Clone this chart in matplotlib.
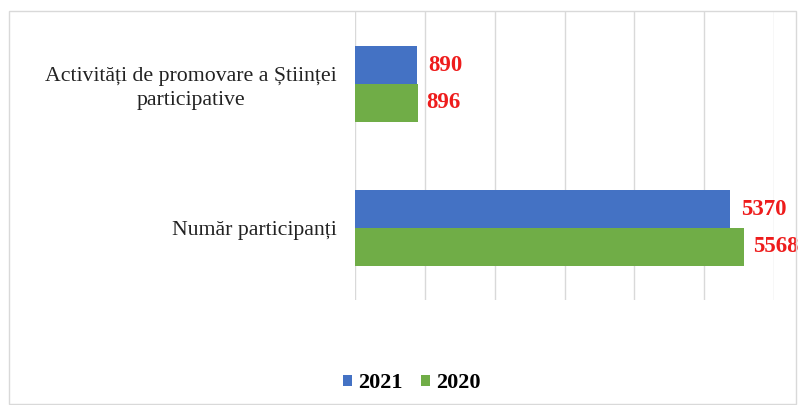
import matplotlib.pyplot as plt
import matplotlib.patches as patches
import numpy as np

categories = ["Activități de promovare a Științei\nparticipative", "Număr participanți"]
values_2021 = [890, 5370]
values_2020 = [896, 5568]

blue = "#4472c4"
green = "#70ad47"

plt.rcParams["font.family"] = ["Liberation Serif", "DejaVu Serif"]

fig = plt.figure(figsize=(7.98, 4.05), dpi=100)
ax = fig.add_axes([0.4449, 0.2593, 0.9699 - 0.4449, 0.7111])

y = np.arange(len(categories))
h = 0.262

bars1 = ax.barh(y - h / 2, values_2021, height=h, color=blue, label="2021")
bars2 = ax.barh(y + h / 2, values_2020, height=h, color=green, label="2020")

for bar, v in zip(bars1, values_2021):
    ax.text(bar.get_width() + 160, bar.get_y() + bar.get_height() / 2, str(v),
            color="#ee1c1c", fontsize=16.5, fontweight="bold", va="center", ha="left")
for bar, v in zip(bars2, values_2020):
    ax.text(bar.get_width() + 130, bar.get_y() + bar.get_height() / 2, str(v),
            color="#ee1c1c", fontsize=16.5, fontweight="bold", va="center", ha="left")

ax.set_xlim(0, 6000)
ax.set_ylim(1.5, -0.5)
ax.set_xticks(np.arange(0, 6001, 1000))
ax.set_yticks(y)
ax.set_yticklabels(categories, fontsize=15.7, color="#222222", ha="right",
                   multialignment="center", linespacing=1.3)
ax.tick_params(axis="y", length=0, pad=13)
ax.tick_params(axis="x", length=0, labelbottom=False)
ax.grid(axis="x", color="#d9d9d9", linewidth=1)
ax.set_axisbelow(True)
for s in ax.spines.values():
    s.set_visible(False)

leg = fig.legend(loc="center", bbox_to_anchor=(0.516, 0.054), ncol=2, frameon=False,
                 prop={"size": 16, "weight": "bold"}, handlelength=0.4, handleheight=0.4,
                 handletextpad=0.3, columnspacing=0.8)

# light border around the whole chart
fig.patches.append(patches.Rectangle((0.011, 0.003), 0.986, 0.97, transform=fig.transFigure,
                                     fill=False, edgecolor="#d9d9d9", linewidth=1))

plt.savefig("out.png")
